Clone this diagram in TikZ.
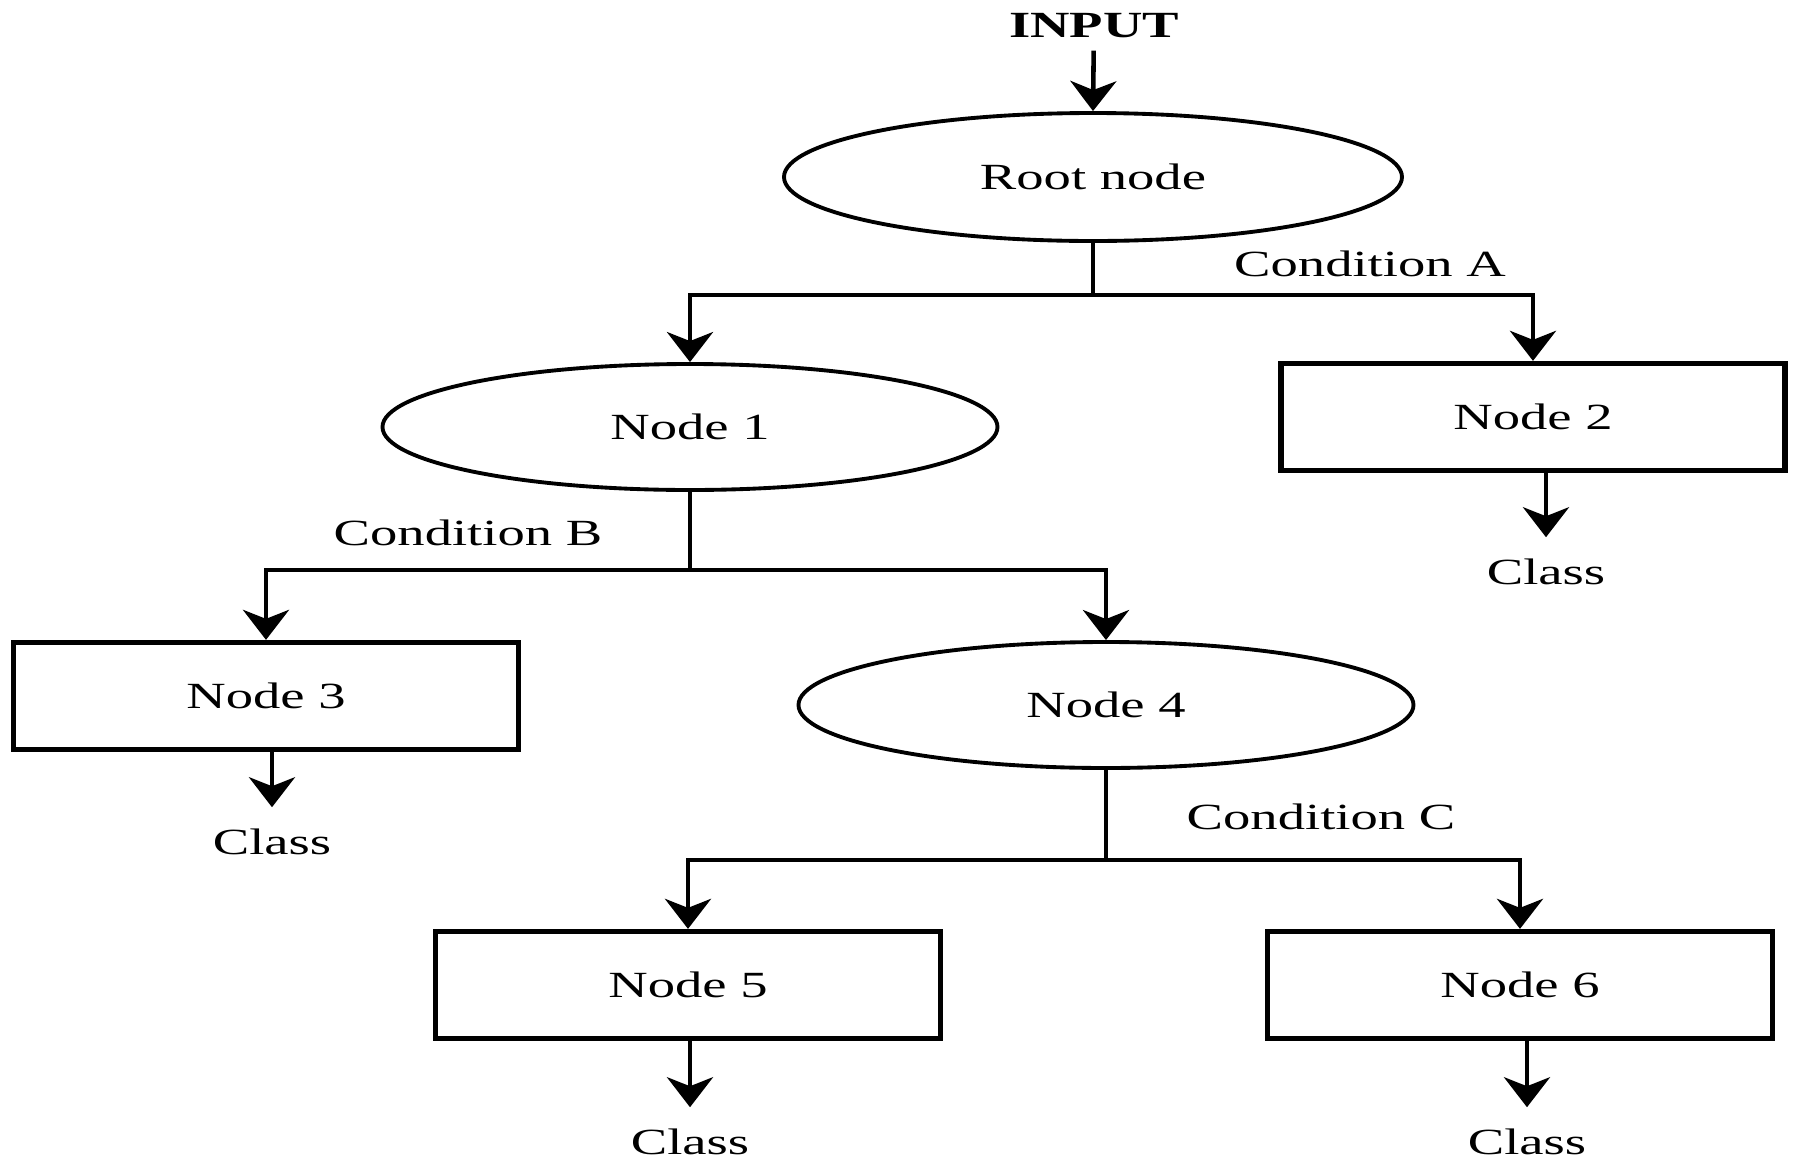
\documentclass[tikz,border=0pt]{standalone}
\usepackage{fontspec}
\setmainfont{Liberation Serif}[FakeStretch=1.48]
\usetikzlibrary{shapes,arrows.meta}

\begin{document}
\begin{tikzpicture}[
  txt/.style={font=\fontsize{10.5}{12}\selectfont},
  oval/.style={draw,ellipse,line width=1.1pt,minimum width=6.15cm,minimum height=1.26cm,txt},
  box/.style={draw,rectangle,line width=1.5pt,minimum width=5.05cm,minimum height=1.07cm,txt},
  cls/.style={txt,inner sep=6pt},
  link/.style={line width=1.3pt},
  arr/.style={line width=1.3pt,-{Stealth[length=0.3cm,width=0.46cm,inset=0.09cm]}}
]
\useasboundingbox (0,0) rectangle (17.97,-11.60);
\node[font=\fontsize{10.5}{12}\selectfont\bfseries] (IN) at (10.94,-0.26) {INPUT};
\node[oval,minimum width=6.18cm,minimum height=1.28cm] (ROOT) at (10.93,-1.77) {Root node};
\node[oval] (N1) at (6.90,-4.27) {Node 1};
\node[box,minimum width=5.04cm] (N2) at (15.33,-4.17) {Node 2};
\node[box] (N3) at (2.66,-6.96) {Node 3};
\node[oval] (N4) at (11.06,-7.05) {Node 4};
\node[box] (N5) at (6.88,-9.85) {Node 5};
\node[box] (N6) at (15.20,-9.85) {Node 6};
\node[cls] (C2) at (15.46,-5.72) {Class};
\node[cls] (C3) at (2.72,-8.42) {Class};
\node[cls] (C5) at (6.90,-11.42) {Class};
\node[cls] (C6) at (15.27,-11.42) {Class};
\node[txt] (CA) at (13.70,-2.64) {Condition A};
\node[txt] (CB) at (4.68,-5.33) {Condition B};
\node[txt] (CC) at (13.21,-8.17) {Condition C};
\coordinate (FA) at (10.93,-2.95);
\coordinate (FB) at (6.90,-5.70);
\coordinate (FC) at (11.06,-8.60);
\draw[arr] (IN) -- (ROOT.north);
\draw[link] (ROOT.south) -- (FA);
\draw[arr] (FA) -| (N1.north);
\draw[arr] (FA) -| (N2.north);
\draw[link] (N1.south) -- (FB);
\draw[arr] (FB) -| (N3.north);
\draw[arr] (FB) -| (N4.north);
\draw[link] (N4.south) -- (FC);
\draw[arr] (FC) -| (N5.north);
\draw[arr] (FC) -| (N6.north);
\draw[arr] (N2.south -| C2) -- (C2.north);
\draw[arr] (N3.south -| C3) -- (C3.north);
\draw[arr] (N5.south -| C5) -- (C5.north);
\draw[arr] (N6.south -| C6) -- (C6.north);
\end{tikzpicture}
\end{document}
